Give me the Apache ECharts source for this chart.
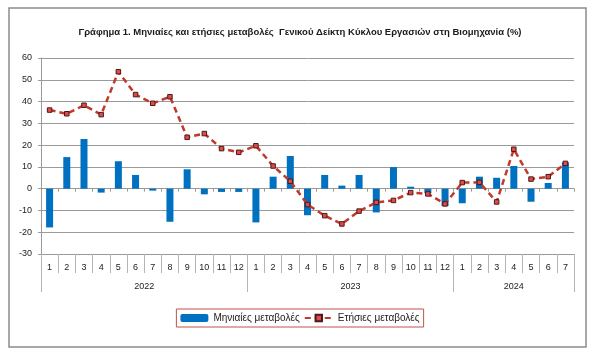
<!DOCTYPE html>
<html>
<head>
<meta charset="utf-8">
<script src="https://cdn.jsdelivr.net/npm/echarts@6/dist/echarts.min.js"></script>
<style>
html,body{margin:0;padding:0;background:#fff;}
#c{width:600px;height:355px;}
</style>
</head>
<body>
<div id="c"></div>
<script>
const months = ['1','2','3','4','5','6','7','8','9','10','11','12',
                '1','2','3','4','5','6','7','8','9','10','11','12',
                '1','2','3','4','5','6','7'];
const years = ['2022','2023','2024'];
const yearLengths = [12, 12, 7];
const monthly = [-17.8, 14.5, 22.8, -1.8, 12.6, 6.3, -0.9, -15.2, 8.9, -2.6, -1.5, -1.5,
                 -15.5, 5.5, 15.0, -12.2, 6.3, 1.4, 6.3, -10.9, 9.9, 0.9, -2.1, -8.0,
                 -6.7, 5.5, 5.0, 10.4, -6.0, 2.6, 12.1];
const annual = [36.1, 34.4, 38.3, 34.0, 53.7, 43.2, 39.2, 42.2, 23.6, 25.3, 18.4, 16.7,
                19.7, 10.4, 3.4, -7.3, -12.4, -16.2, -10.3, -6.3, -5.4, -1.8, -2.4, -7.0,
                2.8, 2.9, -6.1, 18.1, 4.4, 5.5, 11.6];
const yTicks = {min: -30, max: 60, interval: 10};
const seriesNames = ['Μηνιαίες μεταβολές', 'Ετήσιες μεταβολές'];
const titleText = 'Γράφημα 1. Μηνιαίες και ετήσιες μεταβολές  Γενικού Δείκτη Κύκλου Εργασιών στη Βιομηχανία (%)';

// year boundaries and centres derived from yearLengths
const yearBounds = [0];
yearLengths.forEach(n => yearBounds.push(yearBounds[yearBounds.length - 1] + n));
const yearCentres = yearLengths.map((n, i) => yearBounds[i] + n / 2);
const total = yearBounds[yearBounds.length - 1];

const FONT = "'Liberation Sans Narrow', 'Liberation Sans', sans-serif";
const chart = echarts.init(document.getElementById('c'), null, {renderer: 'canvas'});
chart.setOption({
  animation: false,
  backgroundColor: '#fff',
  textStyle: {fontFamily: FONT},
  graphic: [{
    type: 'rect', shape: {x: 9, y: 8, width: 577, height: 339},
    style: {fill: 'none', stroke: '#8c8c8c', lineWidth: 1.5}, z: -1
  }],
  title: {
    text: titleText, left: 'center', top: 22,
    textStyle: {fontSize: 9.5, fontWeight: 'bold', color: '#1a1a1a', fontFamily: FONT}
  },
  grid: {left: 41, right: 26, top: 58, bottom: 101, containLabel: false},
  legend: {
    left: 'center', top: 309,
    data: seriesNames,
    itemWidth: 28, itemHeight: 8, itemGap: 4,
    borderColor: '#c0504d', borderWidth: 1, padding: [4, 4, 4, 4],
    textStyle: {fontSize: 10, color: '#222', fontFamily: FONT}
  },
  xAxis: [
    {
      type: 'category', data: months, position: 'bottom',
      axisLine: {onZero: true, lineStyle: {color: '#9a9a9a', width: 1}},
      axisTick: {show: true, interval: 0, length: 3, lineStyle: {color: '#9a9a9a'}},
      axisLabel: {show: false}, splitLine: {show: false}
    },
    {
      type: 'category', data: months, position: 'bottom',
      axisLine: {onZero: false, lineStyle: {color: '#9a9a9a', width: 1}},
      axisTick: {show: true, interval: 0, length: 19, lineStyle: {color: '#b5b5b5'}},
      axisLabel: {interval: 0, fontSize: 9, color: '#222', margin: 9, fontFamily: FONT},
      splitLine: {show: false}
    },
    {
      type: 'value', position: 'bottom', min: 0, max: total,
      axisLine: {show: false, onZero: false},
      axisTick: {show: true, customValues: yearBounds, length: 38, lineStyle: {color: '#b5b5b5'}},
      axisLabel: {
        customValues: yearCentres, fontSize: 9, color: '#222', margin: 28, fontFamily: FONT,
        formatter: v => years[yearCentres.indexOf(v)]
      },
      splitLine: {show: false}
    }
  ],
  yAxis: {
    type: 'value', min: yTicks.min, max: yTicks.max, interval: yTicks.interval,
    axisLine: {show: true, lineStyle: {color: '#9a9a9a'}},
    axisTick: {show: true, length: 3, lineStyle: {color: '#9a9a9a'}},
    axisLabel: {fontSize: 9, color: '#222', margin: 9, fontFamily: FONT},
    splitLine: {show: true, lineStyle: {color: '#9a9a9a', width: 1}}
  },
  series: [
    {
      name: seriesNames[0], type: 'bar', xAxisIndex: 0, data: monthly,
      barWidth: 7, itemStyle: {color: '#0070c0'}
    },
    {
      name: seriesNames[1], type: 'line', xAxisIndex: 0, data: annual,
      symbol: 'rect', symbolSize: 4.5,
      lineStyle: {color: '#c0392b', width: 2.5, type: [6, 4]},
      itemStyle: {color: '#e14b45', borderColor: '#4a1a1a', borderWidth: 1},
      z: 3
    }
  ]
});
</script>
</body>
</html>
